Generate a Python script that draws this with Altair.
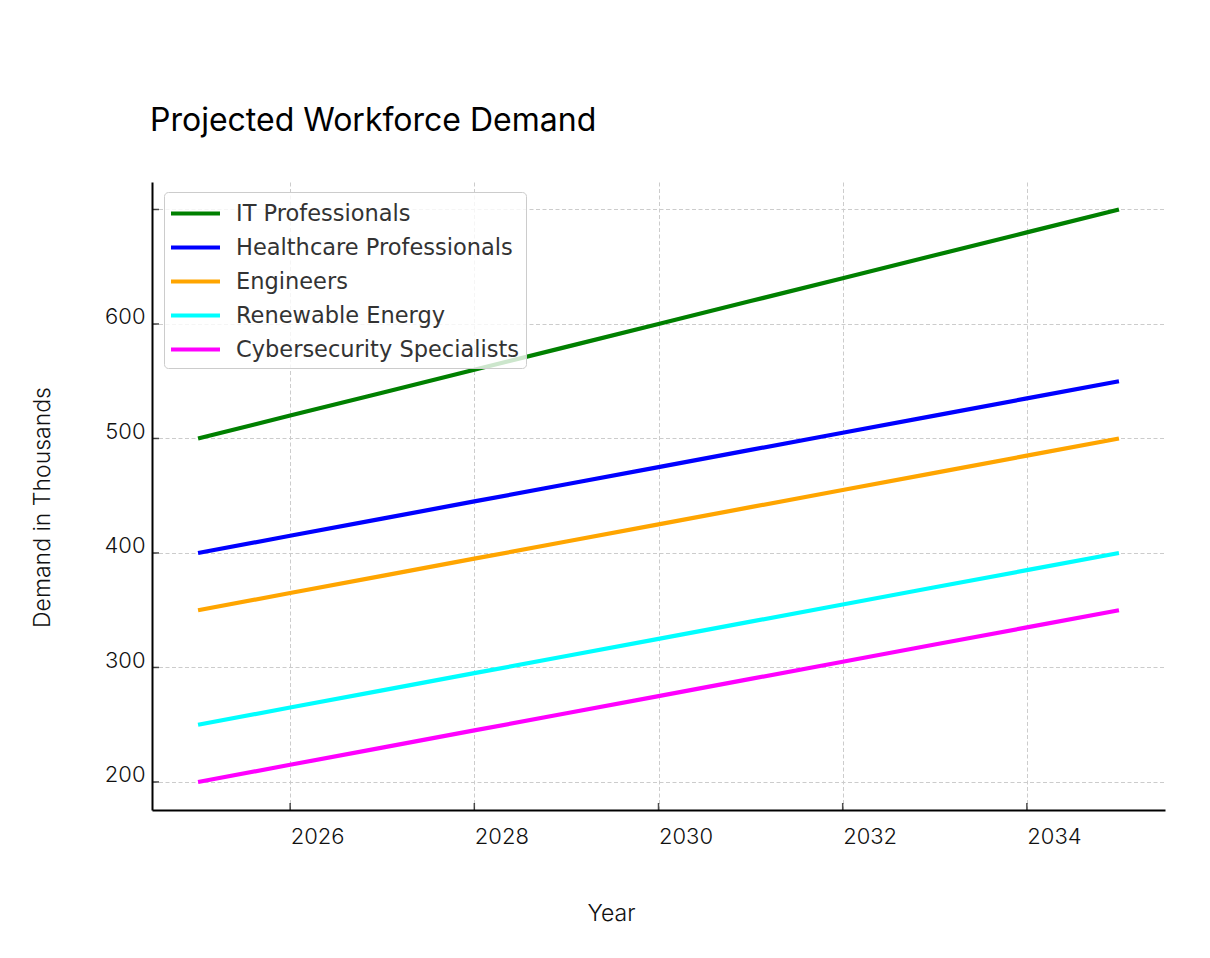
import altair as alt
import pandas as pd

years = [2025, 2026, 2027, 2028, 2029, 2030, 2031, 2032, 2033, 2034, 2035]
it_pros = [500, 520, 540, 560, 580, 600, 620, 640, 660, 680, 700]
healthcare = [400, 415, 430, 445, 460, 475, 490, 505, 520, 535, 550]
engineers = [350, 365, 380, 395, 410, 425, 440, 455, 470, 485, 500]
renewable = [250, 265, 280, 295, 310, 325, 340, 355, 370, 385, 400]
cyber = [200, 215, 230, 245, 260, 275, 290, 305, 320, 335, 350]

series_names = ["IT Professionals", "Healthcare Professionals", "Engineers",
                "Renewable Energy", "Cybersecurity Specialists"]
series_values = [it_pros, healthcare, engineers, renewable, cyber]
series_colors = ["#008000", "#0000ff", "#ffa500", "#00ffff", "#ff00ff"]

x_ticks = [2026, 2028, 2030, 2032, 2034]
y_ticks = [200, 300, 400, 500, 600, 700]

rows = []
for name, vals in zip(series_names, series_values):
    for yr, v in zip(years, vals):
        rows.append({"Year": yr, "Demand": v, "Series": name})
df = pd.DataFrame(rows)

W, H = 1013, 628
FONT = "Inter"

xscale = alt.Scale(domain=[2024.5, 2035.5], nice=False, zero=False)
yscale = alt.Scale(domain=[175.5, 724], nice=False, zero=False)

xaxis = alt.Axis(values=x_ticks, format="d", title="Year",
                 grid=True, gridDash=[4, 2.5], gridColor="#cccccc", gridWidth=1,
                 domainColor="#000000", domainWidth=2,
                 ticks=False, tickSize=0, labelAlign="left", labelBaseline="alphabetic",
                 labelPadding=33, labelFont=FONT, labelFontSize=22, labelFontWeight=300,
                 labelColor="#111111",
                 titleFont=FONT, titleFontSize=23, titleFontWeight=300,
                 titleColor="#111111", titleX=459, titleY=103,
                 titleBaseline="middle", titleAlign="center")
yaxis = alt.Axis(values=y_ticks, title="Demand in Thousands",
                 labelExpr="datum.value == 700 ? '' : datum.label",
                 grid=True, gridDash=[4, 2.5], gridColor="#cccccc", gridWidth=1,
                 domainColor="#000000", domainWidth=2,
                 ticks=False, tickSize=0, labelAlign="right", labelBaseline="alphabetic",
                 labelPadding=7, labelFont=FONT, labelFontSize=22, labelFontWeight=300,
                 labelColor="#111111",
                 titleFont=FONT, titleFontSize=23, titleFontWeight=300,
                 titleColor="#111111", titleAngle=-90, titleX=-110, titleY=325,
                 titleBaseline="middle", titleAlign="center")

lines = alt.Chart(df).mark_line(strokeWidth=4.2, strokeCap="butt").encode(
    x=alt.X("Year:Q", scale=xscale, axis=xaxis),
    y=alt.Y("Demand:Q", scale=yscale, axis=yaxis),
    color=alt.Color("Series:N", sort=series_names,
                    scale=alt.Scale(domain=series_names, range=series_colors),
                    legend=alt.Legend(title=None, orient="none", legendX=12, legendY=10,
                                      symbolType="M-2,0H2", symbolSize=600,
                                      symbolStrokeWidth=4, symbolOffset=10,
                                      labelFont="DejaVu Sans", labelFontSize=22.5,
                                      labelColor="#333333", labelLimit=0,
                                      labelOffset=26, rowPadding=8, padding=7,
                                      fillColor="rgba(255,255,255,0.8)",
                                      strokeColor="#cccccc", cornerRadius=4)),
)

xtick_df = pd.DataFrame({"Year": x_ticks})
ytick_df = pd.DataFrame({"Demand": y_ticks})

xticks = alt.Chart(xtick_df).mark_tick(color="#000000", thickness=1.5, size=7).encode(
    x=alt.X("Year:Q", scale=xscale, axis=xaxis),
    y=alt.value(H - 3.5),
)
yticks = alt.Chart(ytick_df).mark_tick(color="#000000", thickness=1.5, size=7).encode(
    y=alt.Y("Demand:Q", scale=yscale, axis=yaxis),
    x=alt.value(3.5),
)

chart = alt.layer(lines, xticks, yticks).properties(
    width=W, height=H,
    title=alt.TitleParams("Projected Workforce Demand", anchor="start", font=FONT,
                          fontSize=32, fontWeight="normal", color="#000000",
                          offset=19, baseline="alphabetic", frame="group", dx=-2),
    padding={"left": 144, "top": 174, "right": 37, "bottom": 140},
    autosize="none",
).configure_view(stroke=None)

chart.save("out.html", embed_options={"renderer": "svg", "actions": False})
